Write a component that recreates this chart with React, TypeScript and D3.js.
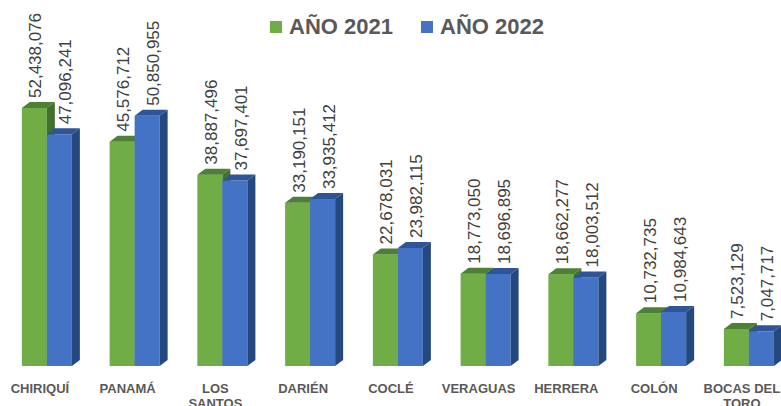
import { useRef, useEffect } from 'react';
import * as d3 from 'd3';

const W = 781;
const H = 406;

const categories = ['CHIRIQUÍ', 'PANAMÁ', 'LOS SANTOS', 'DARIÉN', 'COCLÉ', 'VERAGUAS', 'HERRERA', 'COLÓN', 'BOCAS DEL TORO'];
const series = ['AÑO 2021', 'AÑO 2022'];
const values2021 = [52438076, 45576712, 38887496, 33190151, 22678031, 18773050, 18662277, 10732735, 7523129];
const values2022 = [47096241, 50850955, 37697401, 33935412, 23982115, 18696895, 18003512, 10984643, 7047717];

const FRONT = ['#70AD47', '#4472C4'];
const TOP = ['#4E7F34', '#2F5597'];
const SIDE = ['#43702D', '#24497E'];
const DX = 8;
const DY = 6;
const FONT = 'Arial, "Liberation Sans", sans-serif';

export default function App() {
  const svgRef = useRef<SVGSVGElement>(null);

  useEffect(() => {
    if (!svgRef.current) return;
    const svg = d3.select(svgRef.current);
    svg.selectAll('*').remove();

    const x = d3.scaleBand<string>().domain(categories).range([3, 3 + 9 * 87.75]).paddingInner(0.43).paddingOuter(0.215);
    const xs = d3.scaleBand<string>().domain(series).range([0, x.bandwidth()]);
    const y = d3.scaleLinear().domain([0, 60000000]).range([366, 366 - 60 * 4.92]);

    const rows = categories.map((c, i) => ({ c, vals: [values2021[i], values2022[i]] }));

    rows.forEach(r => {
      const g = svg.append('g');
      r.vals.forEach((v, k) => {
        const x0 = (x(r.c) ?? 0) + (xs(series[k]) ?? 0);
        const bw = xs.bandwidth();
        const yt = y(v);
        const yb = y(0);
        g.append('rect').attr('x', x0).attr('y', yt).attr('width', bw).attr('height', yb - yt).attr('fill', FRONT[k]);
        g.append('path')
          .attr('d', `M${x0},${yt}L${x0 + DX},${yt - DY}L${x0 + bw + DX},${yt - DY}L${x0 + bw},${yt}Z`)
          .attr('fill', TOP[k]);
        g.append('path')
          .attr('d', `M${x0 + bw},${yt}L${x0 + bw + DX},${yt - DY}L${x0 + bw + DX},${yb - DY}L${x0 + bw},${yb}Z`)
          .attr('fill', SIDE[k]);
      });
      r.vals.forEach((v, k) => {
        const x0 = (x(r.c) ?? 0) + (xs(series[k]) ?? 0);
        const cx = x0 + xs.bandwidth() / 2 + (k === 0 ? 1 : 6);
        const ty = y(v) - DY - 4;
        svg.append('text')
          .attr('transform', `translate(${cx},${ty}) rotate(-90)`)
          .attr('dy', '0.35em')
          .attr('font-family', FONT).attr('font-size', 17).attr('fill', '#404040')
          .text(d3.format(',')(v));
      });
    });

    // category labels
    categories.forEach(c => {
      const cx = (x(c) ?? 0) + x.bandwidth() / 2 - 7;
      const t = svg.append('text')
        .attr('x', cx).attr('y', 393).attr('text-anchor', 'middle')
        .attr('font-family', FONT).attr('font-size', 13).attr('font-weight', 'bold').attr('fill', '#595959');
      const words = c.split(' ');
      let line: string[] = [];
      let lineNo = 0;
      let span = t.append('tspan').attr('x', cx).attr('y', 393);
      words.forEach(w => {
        line.push(w);
        span.text(line.join(' '));
        if ((span.node() as SVGTSpanElement).getComputedTextLength() > 80 && line.length > 1) {
          line.pop();
          span.text(line.join(' '));
          line = [w];
          lineNo++;
          span = t.append('tspan').attr('x', cx).attr('y', 393 + lineNo * 15).text(w);
        }
      });
    });

    // legend
    const legX = [270, 421];
    series.forEach((s, k) => {
      svg.append('rect').attr('x', legX[k]).attr('y', 21).attr('width', 12).attr('height', 12).attr('fill', FRONT[k]);
      svg.append('text').attr('x', legX[k] + 19).attr('y', 34)
        .attr('font-family', FONT).attr('font-size', 22).attr('font-weight', 'bold').attr('fill', '#595959')
        .text(s);
    });
  }, []);

  return (
    <div style={{ position: 'absolute', left: 0, top: 0 }}>
      <svg ref={svgRef} width={W} height={H} style={{ display: 'block', background: '#fff' }} />
    </div>
  );
}
